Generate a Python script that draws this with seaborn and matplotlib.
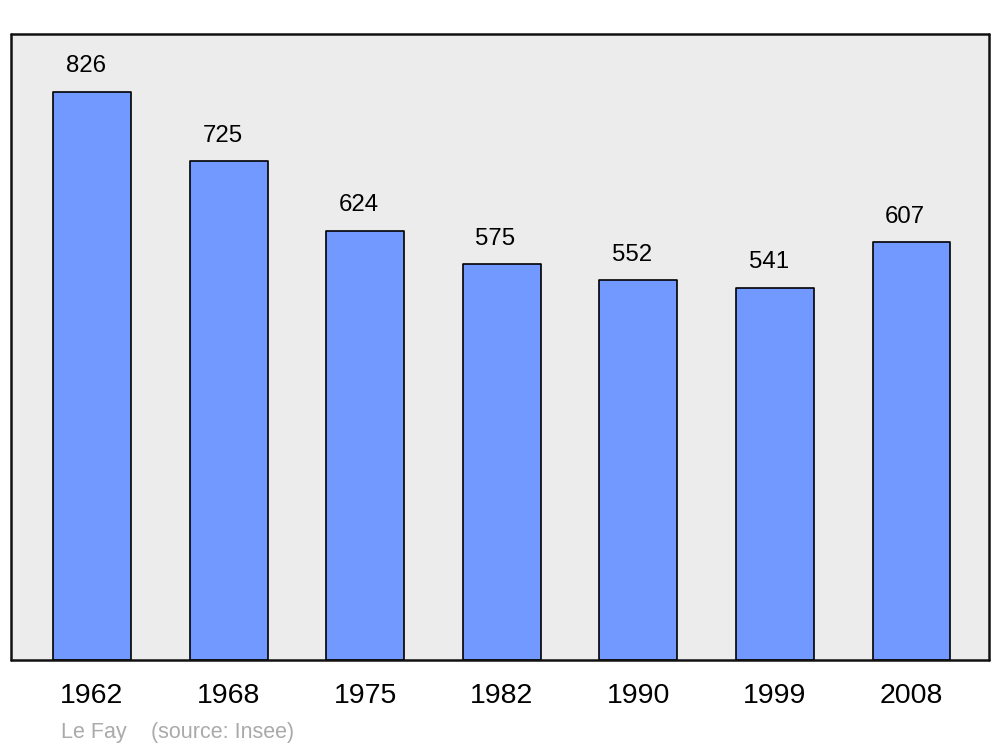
import matplotlib.pyplot as plt
import seaborn as sns

# population data
years = ["1962", "1968", "1975", "1982", "1990", "1999", "2008"]
population = [826, 725, 624, 575, 552, 541, 607]
commune = "Le Fay"
source = "(source: Insee)"

sns.set_style("white")
plt.rcParams['font.family'] = ['Liberation Sans', 'DejaVu Sans']
plt.rcParams['text.color'] = 'black'
plt.rcParams['xtick.color'] = 'black'

fig = plt.figure(figsize=(10, 7.47), dpi=100)
ax = fig.add_axes([0.011, 0.1165, 0.978, 0.838])
ax.set_facecolor("#ececec")

sns.barplot(x=years, y=population, color="#7299ff", saturation=1, width=0.57,
            edgecolor="black", linewidth=1.2, ax=ax)
for p in ax.patches:
    p.set_joinstyle("round")

for i, v in enumerate(population):
    ax.annotate(str(v), (i, v), xytext=(-4.5, 10.5), textcoords="offset points",
                ha="center", va="bottom", fontsize=17.3, color="black")

ax.set_xlim(-0.593, 6.567)
ax.set_ylim(0, 910)
ax.set_yticks([])
ax.tick_params(axis="x", length=0, pad=16.5, labelsize=20.5, labelcolor="black")
ax.set_xlabel("")
ax.set_ylabel("")
for s in ax.spines.values():
    s.set_visible(True)
    s.set_linewidth(1.8)
    s.set_color("#111111")
    s.set_capstyle("round")

fig.text(0.061, 0.019, commune, color="#aaaaaa", fontsize=15.5, ha="left", va="center")
fig.text(0.151, 0.019, source, color="#aaaaaa", fontsize=15.5, ha="left", va="center")

plt.savefig("out.png", dpi=100, facecolor="white")
